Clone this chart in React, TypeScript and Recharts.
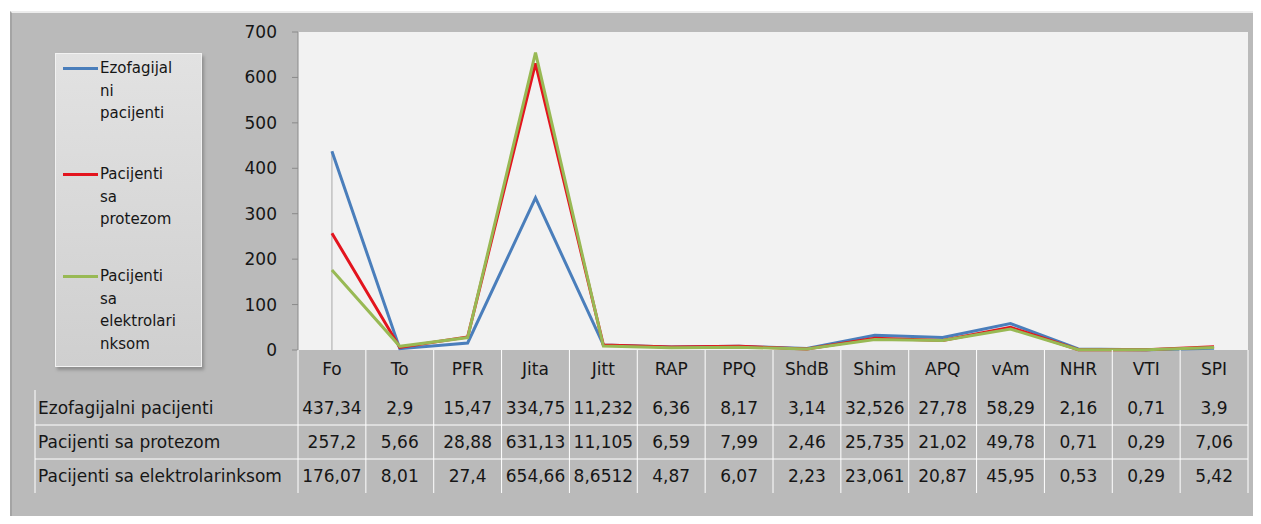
import React from 'react';
import { LineChart, Line, XAxis, YAxis, CartesianGrid, ReferenceLine } from 'recharts';

// MDVP parameters, one column per parameter
const categories = ['Fo', 'To', 'PFR', 'Jita', 'Jitt', 'RAP', 'PPQ', 'ShdB', 'Shim', 'APQ', 'vAm', 'NHR', 'VTI', 'SPI'];

const ezofagijalni = [437.34, 2.9, 15.47, 334.75, 11.232, 6.36, 8.17, 3.14, 32.526, 27.78, 58.29, 2.16, 0.71, 3.9];
const protezom = [257.2, 5.66, 28.88, 631.13, 11.105, 6.59, 7.99, 2.46, 25.735, 21.02, 49.78, 0.71, 0.29, 7.06];
const elektrolarinksom = [176.07, 8.01, 27.4, 654.66, 8.6512, 4.87, 6.07, 2.23, 23.061, 20.87, 45.95, 0.53, 0.29, 5.42];

const seriesNames = ['Ezofagijalni pacijenti', 'Pacijenti sa protezom', 'Pacijenti sa elektrolarinksom'];
const legendLines = [
  ['Ezofagijal', 'ni', 'pacijenti'],
  ['Pacijenti', 'sa', 'protezom'],
  ['Pacijenti', 'sa', 'elektrolari', 'nksom'],
];
const yTicks = [0, 100, 200, 300, 400, 500, 600, 700];

const seriesValues = [ezofagijalni, protezom, elektrolarinksom];
const colors = ['#4a7ebb', '#e3141e', '#98b954'];

const data = categories.map((name, i) => ({
  name,
  s0: ezofagijalni[i],
  s1: protezom[i],
  s2: elektrolarinksom[i],
}));

// layout
const W = 1253;
const H = 508;
const plotLeft = 290;
const plotRight = 1240;
const plotBottom = 342;
const colW = (plotRight - plotLeft) / categories.length;
const FONT = '"DejaVu Sans", sans-serif';
const TEXT = '#161616';

// row offsets below the plot bottom
const headerY = 19;
const rowY = [58, 92, 126];
const rowLines = [75, 109];
const tableBottom = 143;

const fmt = (v: number) => String(v).replace('.', ',');

// each x tick draws its own column of the data table
const TableTick = (props: any) => {
  const { x, payload, index } = props;
  const top = plotBottom;
  const right = x + colW / 2;
  return (
    <g>
      {index === 0 && (
        <g>
          <line x1={x - colW / 2} y1={top} x2={x - colW / 2} y2={top + tableBottom} stroke="#ffffff" />
          <line x1={27} y1={top + 40} x2={27} y2={top + tableBottom} stroke="#ffffff" />
          {rowLines.map((ly) => (
            <line key={ly} x1={27} y1={top + ly} x2={plotRight} y2={top + ly} stroke="#ffffff" />
          ))}
          {seriesNames.map((n, i) => (
            <text key={n} x={30} y={top + rowY[i]} dominantBaseline="central" fontSize={17} fontFamily={FONT} fill={TEXT}>
              {n}
            </text>
          ))}
        </g>
      )}
      <line x1={right} y1={top} x2={right} y2={top + tableBottom} stroke="#ffffff" />
      <text x={x} y={top + headerY} textAnchor="middle" dominantBaseline="central" fontSize={17} fontFamily={FONT} fill={TEXT}>
        {payload.value}
      </text>
      {seriesValues.map((vals, i) => (
        <text key={i} x={x} y={top + rowY[i]} textAnchor="middle" dominantBaseline="central" fontSize={17} fontFamily={FONT} fill={TEXT}>
          {fmt(vals[index])}
        </text>
      ))}
    </g>
  );
};

const LegendBox = () => (
  <div
    style={{
      position: 'absolute',
      left: 47,
      top: 45,
      width: 147,
      height: 314,
      boxSizing: 'border-box',
      background: 'linear-gradient(#e2e2e2, #cfcfcf)',
      border: '1px solid #f2f2f2',
      boxShadow: '2px 3px 3px #8e8e8e',
      fontFamily: FONT,
      fontSize: 15,
      color: TEXT,
    }}
  >
    {seriesNames.map((n, i) => (
      <div key={n} style={{ position: 'absolute', left: 7, top: [3, 109, 211][i] }}>
        <div style={{ position: 'absolute', left: 0, top: 10, width: 35, height: 3, background: colors[i] }} />
        {legendLines[i].map((t, j) => (
          <div key={j} style={{ position: 'absolute', left: 37, top: j * 22.5, lineHeight: '22px', whiteSpace: 'nowrap' }}>
            {t}
          </div>
        ))}
      </div>
    ))}
  </div>
);

export default function App() {
  return (
    <div style={{ position: 'relative', width: W, height: H }}>
      <div
        style={{
          position: 'absolute',
          left: 2,
          top: 3,
          width: 1251,
          height: 507,
          boxSizing: 'border-box',
          background: '#bababa',
          borderTop: '2px solid #ececec',
          borderLeft: '2px solid #a4a4a4',
          borderBottom: '2px solid #a4a4a4',
        }}
      />
      <LegendBox />
      <div style={{ position: 'absolute', left: 0, top: 0 }}>
        <LineChart width={W} height={H} data={data} margin={{ top: 24, right: 13, left: 250, bottom: 16 }}>
          <CartesianGrid horizontal={false} vertical={false} fill="#f2f2f2" />
          <XAxis
            dataKey="name"
            scale="point"
            padding={{ left: colW / 2, right: colW / 2 }}
            height={150}
            interval={0}
            axisLine={false}
            tickLine={false}
            tickSize={0}
            tickMargin={0}
            tick={<TableTick />}
          />
          <YAxis
            width={40}
            domain={[0, 700]}
            ticks={yTicks}
            interval={0}
            axisLine={{ stroke: '#8a8a8a' }}
            tickLine={{ stroke: '#8a8a8a' }}
            tickSize={6}
            tickMargin={15}
            tick={{ fontSize: 17, fontFamily: FONT, fill: TEXT }}
          />
          <ReferenceLine
            segment={[{ x: categories[0], y: 0 }, { x: categories[0], y: ezofagijalni[0] }]}
            stroke="#a8a8a8"
            strokeWidth={1}
          />
          {seriesNames.map((n, i) => (
            <Line
              key={n}
              type="linear"
              dataKey={`s${i}`}
              name={n}
              stroke={colors[i]}
              strokeWidth={3}
              dot={false}
              activeDot={false}
              isAnimationActive={false}
            />
          ))}
        </LineChart>
      </div>
    </div>
  );
}
